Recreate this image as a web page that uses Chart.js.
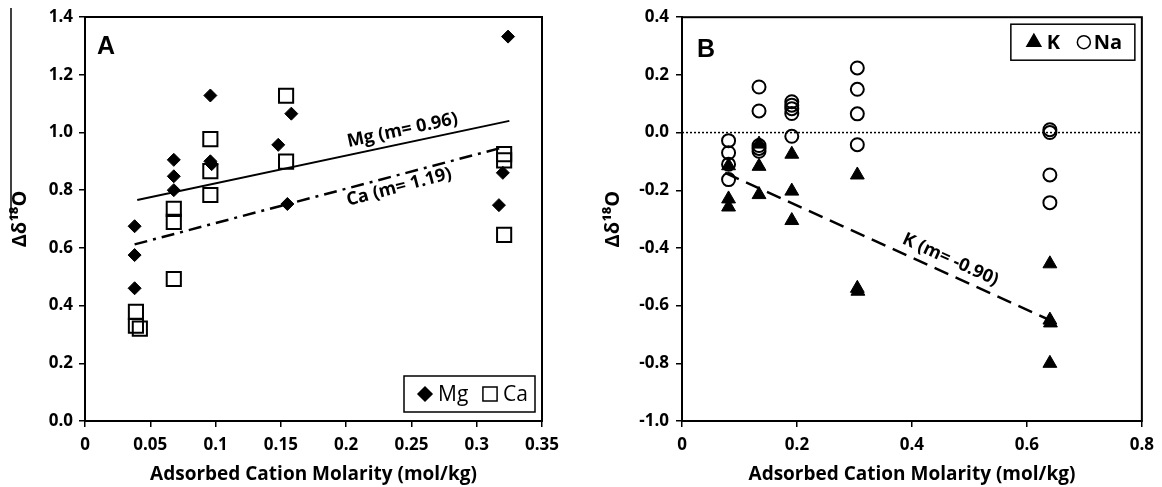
<!DOCTYPE html>
<html>
<head>
<meta charset="utf-8">
<title>Δδ18O vs adsorbed cation molarity</title>
<script src="https://cdn.jsdelivr.net/npm/chart.js@4.4.1/dist/chart.umd.min.js"></script>
<style>
  html, body { margin: 0; padding: 0; background: #fff; }
  .panel { position: absolute; top: 0; width: 581px; height: 487px; }
  #panel-a { left: 0; }
  #panel-b { left: 581px; }
</style>
</head>
<body>
<div class="panel" id="panel-a"><canvas id="chart-a" width="581" height="487"></canvas></div>
<div class="panel" id="panel-b"><canvas id="chart-b" width="581" height="487"></canvas></div>
<script>
// Panel A - Mg and Ca
const mgX = [0.038, 0.038, 0.038, 0.068, 0.068, 0.068, 0.096, 0.096, 0.097, 0.148, 0.158, 0.155, 0.324, 0.320, 0.317];
const mgY = [0.675, 0.575, 0.46, 0.905, 0.848, 0.80, 1.128, 0.90, 0.89, 0.957, 1.065, 0.752, 1.332, 0.86, 0.748];
const caX = [0.039, 0.039, 0.042, 0.068, 0.068, 0.068, 0.096, 0.096, 0.096, 0.154, 0.154, 0.321, 0.321, 0.321];
const caY = [0.378, 0.33, 0.32, 0.735, 0.69, 0.492, 0.977, 0.866, 0.783, 1.127, 0.899, 0.925, 0.903, 0.645];
const mgFitX = [0.04, 0.325];
const mgFitY = [0.766, 1.040];
const caFitX = [0.038, 0.32];
const caFitY = [0.612, 0.948];
const aXTicks = [0, 0.05, 0.1, 0.15, 0.2, 0.25, 0.3, 0.35];
const aYTicks = [0, 0.2, 0.4, 0.6, 0.8, 1.0, 1.2, 1.4];

// Panel B - K and Na
const naX = [0.081, 0.081, 0.081, 0.081, 0.134, 0.134, 0.134, 0.134, 0.134, 0.191, 0.191, 0.191, 0.191, 0.191, 0.305, 0.305, 0.305, 0.305, 0.64, 0.64, 0.64, 0.64];
const naY = [-0.028, -0.07, -0.11, -0.163, 0.158, 0.075, -0.045, -0.055, -0.065, 0.107, 0.095, 0.083, 0.066, -0.013, 0.224, 0.15, 0.065, -0.042, 0.01, 0.0, -0.147, -0.243];
const kX = [0.081, 0.081, 0.081, 0.134, 0.134, 0.134, 0.191, 0.191, 0.191, 0.305, 0.305, 0.306, 0.64, 0.64, 0.641, 0.64];
const kY = [-0.115, -0.23, -0.258, -0.04, -0.117, -0.215, -0.075, -0.203, -0.305, -0.147, -0.54, -0.55, -0.455, -0.65, -0.66, -0.80];
const kFitX = [0.075, 0.645];
const kFitY = [-0.14, -0.655];
const zeroX = [0, 0.8];
const zeroY = [0, 0];
const bXTicks = [0, 0.2, 0.4, 0.6, 0.8];
const bYTicks = [-1.0, -0.8, -0.6, -0.4, -0.2, 0, 0.2, 0.4];

const FONT = 'Open Sans';
const tickFont = { family: FONT, weight: 'bold', size: 17 };
const titleFont = { family: FONT, weight: 'bold', size: 19 };
const yTitleFont = { family: FONT, weight: 'bold', size: 20 };

function pairs (xs, ys) {
    return xs.map((x, i) => ({ x: x, y: ys[i] }));
}

function fitLine (xs, ys, dash, width) {
    return {
        type: 'line',
        data: pairs(xs, ys),
        showLine: true,
        borderColor: '#000',
        borderWidth: width,
        borderDash: dash,
        pointRadius: 0,
        fill: false,
        order: 5
    };
}

function linearAxis (min, max, ticks, size, fmt, pad, title, font, titlePad) {
    const horizontal = size.height !== undefined;
    return {
        type: 'linear',
        min: min,
        max: max,
        afterBuildTicks: s => { s.ticks = ticks.map(v => ({ value: v })); },
        afterFit: s => {
            if (horizontal) s.height = size.height; else s.width = size.width;
        },
        border: { display: true, color: '#000', width: 2 },
        grid: { drawOnChartArea: false, color: '#000', lineWidth: 1.5, tickLength: 6 },
        ticks: { color: '#000', font: tickFont, padding: pad, callback: fmt, maxRotation: 0 },
        title: { display: true, text: title, color: '#000', font: font, padding: titlePad }
    };
}

function makeDecor (cfg) {
    return {
        id: 'decor',
        afterDatasetsDraw (chart) {
            const ctx = chart.ctx;
            const ca = chart.chartArea;
            const xs = chart.scales.x;
            const ys = chart.scales.y;
            ctx.save();

            // plot frame
            ctx.strokeStyle = '#000';
            ctx.lineWidth = 2;
            ctx.strokeRect(ca.left, ca.top, ca.right - ca.left, ca.bottom - ca.top);

            // panel letter
            ctx.fillStyle = '#000';
            ctx.font = 'bold 25px "Liberation Sans"';
            ctx.textAlign = 'left';
            ctx.textBaseline = 'middle';
            ctx.fillText(cfg.letter, ca.left + cfg.letterDx, ca.top + cfg.letterDy);

            // trend line labels
            cfg.lineLabels.forEach(item => {
                const x0 = xs.getPixelForValue(item.fx[0]);
                const y0 = ys.getPixelForValue(item.fy[0]);
                const x1 = xs.getPixelForValue(item.fx[1]);
                const y1 = ys.getPixelForValue(item.fy[1]);
                const ang = Math.atan2(y1 - y0, x1 - x0);
                const px = x0 + (x1 - x0) * item.at;
                const py = y0 + (y1 - y0) * item.at;
                ctx.save();
                ctx.translate(px + Math.sin(ang) * item.offset, py - Math.cos(ang) * item.offset);
                ctx.rotate(ang);
                ctx.fillStyle = '#000';
                ctx.font = 'bold 18px "' + FONT + '"';
                ctx.textAlign = 'center';
                ctx.textBaseline = 'middle';
                ctx.fillText(item.text, 0, 0);
                ctx.restore();
            });

            // boxed legend
            const lg = cfg.legend;
            const left = ca.right - lg.dxRight - lg.width;
            const top = lg.fromTop ? ca.top + lg.dy : ca.bottom - lg.dy - lg.height;
            const midY = top + lg.height / 2;
            ctx.strokeStyle = '#000';
            ctx.lineWidth = 1.5;
            ctx.strokeRect(left, top, lg.width, lg.height);
            lg.items.forEach(it => {
                ctx.save();
                ctx.fillStyle = it.fill;
                ctx.strokeStyle = '#000';
                Chart.helpers.drawPoint(ctx, {
                    pointStyle: it.style, radius: it.radius, borderWidth: it.borderWidth
                }, left + it.markX, midY);
                ctx.restore();
                ctx.fillStyle = '#000';
                ctx.font = lg.font;
                ctx.textAlign = 'left';
                ctx.textBaseline = 'middle';
                ctx.fillText(it.text, left + it.textX, midY + 1);
            });

            // overline of the y-axis title (panel A)
            if (cfg.overline) {
                ctx.strokeStyle = '#000';
                ctx.lineWidth = 1.5;
                ctx.beginPath();
                ctx.moveTo(cfg.overline[0], cfg.overline[1]);
                ctx.lineTo(cfg.overline[0], cfg.overline[2]);
                ctx.stroke();
            }
            ctx.restore();
        }
    };
}

Chart.defaults.font.family = FONT;
Chart.defaults.color = '#000';

const decorA = makeDecor({
    letter: 'A', letterDx: 12, letterDy: 30,
    overline: [11, 8, 216],
    lineLabels: [
        { fx: mgFitX, fy: mgFitY, at: 0.72, offset: 13, text: 'Mg (m= 0.96)' },
        { fx: caFitX, fy: caFitY, at: 0.71, offset: -12, text: 'Ca (m= 1.19)' }
    ],
    legend: {
        width: 131, height: 36, dxRight: 7, dy: 9, fromTop: false,
        font: '21px "' + FONT + '"',
        items: [
            { style: 'rectRot', radius: 7, borderWidth: 1, markX: 21, textX: 34, text: 'Mg', fill: '#000' },
            { style: 'rect', radius: 10, borderWidth: 2, markX: 86, textX: 99, text: 'Ca', fill: 'rgba(0,0,0,0)' }
        ]
    }
});

const decorB = makeDecor({
    letter: 'B', letterDx: 15, letterDy: 33,
    overline: null,
    lineLabels: [
        { fx: kFitX, fy: kFitY, at: 0.67, offset: 14, text: 'K (m= -0.90)' }
    ],
    legend: {
        width: 124, height: 36, dxRight: 7, dy: 7, fromTop: true,
        font: 'bold 20px "' + FONT + '"',
        items: [
            { style: 'triangle', radius: 8, borderWidth: 1, markX: 23, textX: 36, text: 'K', fill: '#000' },
            { style: 'circle', radius: 6.5, borderWidth: 2, markX: 73, textX: 83, text: 'Na', fill: 'rgba(0,0,0,0)' }
        ]
    }
});

const numLabel = v => String(v);
const oneDecimal = v => v.toFixed(1);
const xTitle = 'Adsorbed Cation Molarity (mol/kg)';

const chartA = new Chart(document.getElementById('chart-a'), {
    type: 'scatter',
    data: {
        datasets: [
            {
                label: 'Mg', data: pairs(mgX, mgY), pointStyle: 'rectRot', pointRadius: 6.5,
                backgroundColor: '#000', borderColor: '#000', borderWidth: 1, order: 1
            },
            {
                label: 'Ca', data: pairs(caX, caY), pointStyle: 'rect', pointRadius: 10,
                backgroundColor: 'rgba(0,0,0,0)', borderColor: '#000', borderWidth: 2, order: 2
            },
            fitLine(mgFitX, mgFitY, [], 2),
            fitLine(caFitX, caFitY, [13, 6, 3, 6], 2.5)
        ]
    },
    options: {
        responsive: false,
        animation: false,
        layout: { padding: { left: 0, right: 39, top: 17, bottom: 1 } },
        plugins: { legend: { display: false }, tooltip: { enabled: false } },
        scales: {
            x: linearAxis(0, 0.35, aXTicks, { height: 65 }, numLabel, 8, xTitle, titleFont, { top: 4, bottom: 0 }),
            y: linearAxis(0, 1.4, aYTicks, { width: 85 }, oneDecimal, 6, 'Δδ¹⁸O', yTitleFont, { top: 8, bottom: 0 })
        }
    },
    plugins: [decorA]
});

const chartB = new Chart(document.getElementById('chart-b'), {
    type: 'scatter',
    data: {
        datasets: [
            {
                label: 'K', data: pairs(kX, kY), pointStyle: 'triangle', pointRadius: 8,
                backgroundColor: '#000', borderColor: '#000', borderWidth: 1, order: 1
            },
            {
                label: 'Na', data: pairs(naX, naY), pointStyle: 'circle', pointRadius: 6.5,
                backgroundColor: 'rgba(0,0,0,0)', borderColor: '#000', borderWidth: 2, order: 2
            },
            fitLine(kFitX, kFitY, [15, 8], 2.5),
            fitLine(zeroX, zeroY, [2, 2], 1.5)
        ]
    },
    options: {
        responsive: false,
        animation: false,
        layout: { padding: { left: 0, right: 15, top: 15, bottom: 1 } },
        plugins: { legend: { display: false }, tooltip: { enabled: false } },
        scales: {
            x: linearAxis(0, 0.8, bXTicks, { height: 65 }, numLabel, 8, xTitle, titleFont, { top: 4, bottom: 0 }),
            y: linearAxis(-1.0, 0.4, bYTicks, { width: 101 }, oneDecimal, 7, 'Δδ¹⁸O', yTitleFont, { top: 20, bottom: 0 })
        }
    },
    plugins: [decorB]
});
</script>
</body>
</html>
